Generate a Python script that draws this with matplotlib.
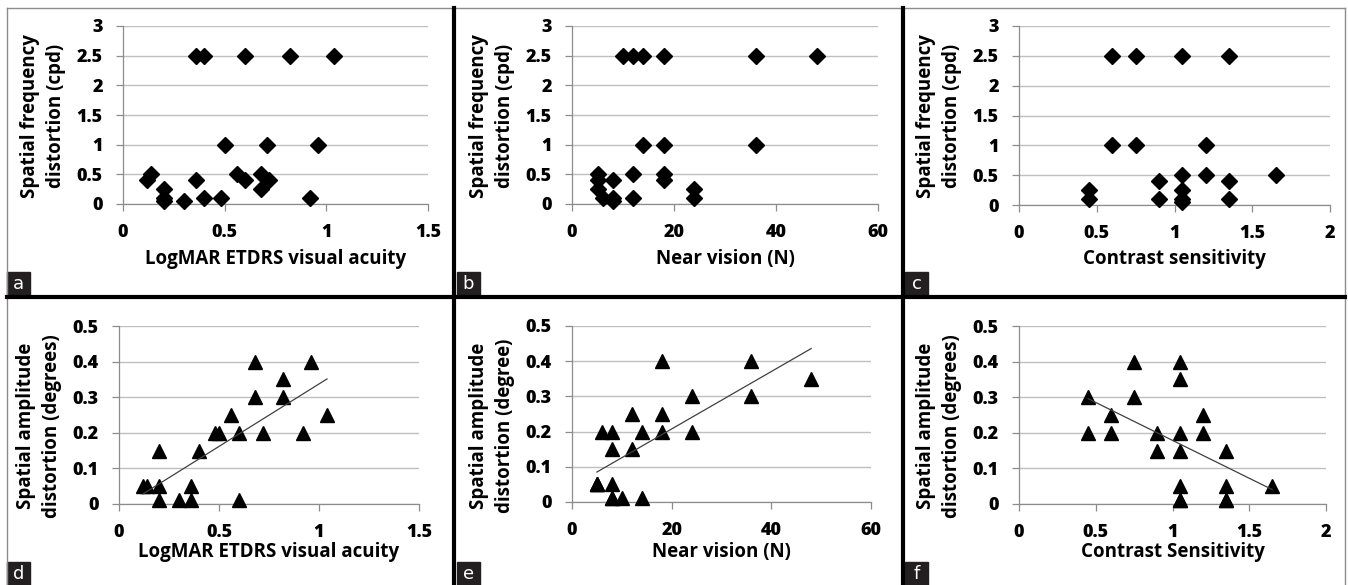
"""
Six-panel scatter figure: distortion vs visual function measures.
"""

import numpy as np
import matplotlib
matplotlib.use("Agg")
import matplotlib.pyplot as plt
from matplotlib.lines import Line2D
from matplotlib.patches import Rectangle

plt.rcParams['font.family'] = ['Open Sans', 'DejaVu Sans']
plt.rcParams['font.weight'] = 'bold'

W, H = 1348, 585

# --- data ---
# top row: spatial frequency distortion (cpd)
a_x = [0.36, 0.40, 0.60, 0.82, 1.04, 0.50, 0.71, 0.96, 0.12, 0.14, 0.20, 0.20,
       0.20, 0.30, 0.36, 0.40, 0.48, 0.56, 0.60, 0.68, 0.68, 0.72, 0.92]
a_y = [2.5, 2.5, 2.5, 2.5, 2.5, 1.0, 1.0, 1.0, 0.4, 0.5, 0.25, 0.1,
       0.05, 0.05, 0.4, 0.1, 0.1, 0.5, 0.4, 0.5, 0.25, 0.4, 0.1]

b_x = [10, 12, 14, 18, 36, 48, 14, 18, 36, 5, 5, 5, 6, 8, 8, 8, 12, 12, 18, 18, 24, 24]
b_y = [2.5, 2.5, 2.5, 2.5, 2.5, 2.5, 1.0, 1.0, 1.0, 0.5, 0.4, 0.25, 0.1, 0.4, 0.1,
       0.05, 0.5, 0.1, 0.5, 0.4, 0.25, 0.1]

c_x = [0.60, 0.75, 1.05, 1.35, 0.60, 0.75, 1.20, 1.05, 1.20, 1.65, 0.90, 1.35,
       0.45, 1.05, 0.45, 0.90, 1.05, 1.35, 1.05]
c_y = [2.5, 2.5, 2.5, 2.5, 1.0, 1.0, 1.0, 0.5, 0.5, 0.5, 0.4, 0.4,
       0.25, 0.25, 0.1, 0.1, 0.1, 0.1, 0.05]

# bottom row: spatial amplitude distortion (degrees)
d_x = [0.12, 0.14, 0.20, 0.20, 0.20, 0.30, 0.36, 0.36, 0.40, 0.48, 0.50, 0.56,
       0.60, 0.60, 0.68, 0.68, 0.72, 0.82, 0.82, 0.92, 0.96, 1.04]
d_y = [0.05, 0.05, 0.05, 0.15, 0.01, 0.01, 0.05, 0.01, 0.15, 0.20, 0.20, 0.25,
       0.20, 0.01, 0.40, 0.30, 0.20, 0.35, 0.30, 0.20, 0.40, 0.25]

# some patients sit on top of each other (5, 0.05) x3 and (8, 0.01) x2
e_x = [5, 5, 5, 6, 8, 8, 8, 8, 8, 10, 12, 12, 14, 14, 18, 18, 18, 24, 24, 36, 36, 48]
e_y = [0.05, 0.05, 0.05, 0.20, 0.20, 0.15, 0.05, 0.01, 0.01, 0.01, 0.25, 0.15,
       0.20, 0.01, 0.40, 0.25, 0.20, 0.30, 0.20, 0.40, 0.30, 0.35]

f_x = [0.45, 0.45, 0.60, 0.60, 0.75, 0.75, 0.90, 0.90, 1.05, 1.05, 1.05, 1.05,
       1.05, 1.05, 1.05, 1.20, 1.20, 1.35, 1.35, 1.35, 1.35, 1.65]
f_y = [0.30, 0.20, 0.25, 0.20, 0.40, 0.30, 0.20, 0.15, 0.40, 0.35, 0.20, 0.15,
       0.05, 0.01, 0.01, 0.25, 0.20, 0.15, 0.05, 0.01, 0.01, 0.05]

top_ylabel = "Spatial frequency\ndistortion (cpd)"
panels = [
    # letter, x, y, xlabel, ylabel, xmax, xstep, ymax, ystep, marker, trend, pixel box (x0, x1, ytop, ybot)
    ("a", a_x, a_y, "LogMAR ETDRS visual acuity", top_ylabel, 1.5, 0.5, 3, 0.5, "D", False, (123, 428, 26, 204)),
    ("b", b_x, b_y, "Near vision (N)", top_ylabel, 60, 20, 3, 0.5, "D", False, (572, 878, 26, 204)),
    ("c", c_x, c_y, "Contrast sensitivity", top_ylabel, 2, 0.5, 3, 0.5, "D", False, (1019, 1330, 26, 205)),
    ("d", d_x, d_y, "LogMAR ETDRS visual acuity", "Spatial amplitude\ndistortion (degrees)",
     1.5, 0.5, 0.5, 0.1, "^", True, (119, 419, 326, 504)),
    ("e", e_x, e_y, "Near vision (N)", "Spatial amplitude\ndistortion (degree)",
     60, 20, 0.5, 0.1, "^", True, (572, 871, 326, 502)),
    ("f", f_x, f_y, "Contrast Sensitivity", "Spatial amplitude\ndistortion (degrees)",
     2, 0.5, 0.5, 0.1, "^", True, (1019, 1326, 326, 504)),
]

grid_col = "#bfbfbf"
axis_col = "#8c8c8c"

fig = plt.figure(figsize=(W / 100, H / 100), dpi=100)

for letter, xs, ys, xlabel, ylabel, xmax, xstep, ymax, ystep, marker, trend, box in panels:
    x0, x1, yt, yb = box
    top_row = letter in "abc"
    ax = fig.add_axes([x0 / W, 1 - yb / H, (x1 - x0) / W, (yb - yt) / H])
    ax.set_xlim(0, xmax)
    ax.set_ylim(0, ymax)
    xt = np.arange(0, xmax + xstep / 2, xstep)
    yt_vals = np.arange(0, ymax + ystep / 2, ystep)
    ax.set_xticks(xt, [f"{v:g}" for v in xt], fontweight=800, fontsize=13)
    ax.set_yticks(yt_vals, [f"{v:g}" for v in yt_vals], fontweight=800, fontsize=13)
    for side in ("top", "right"):
        ax.spines[side].set_visible(False)
    for side in ("left", "bottom"):
        ax.spines[side].set_color(axis_col)
        ax.spines[side].set_linewidth(0.9)
    ax.grid(axis="y", color=grid_col, linewidth=1.0)
    ax.set_axisbelow(True)
    ax.tick_params(direction="out", length=5, width=0.9, color=axis_col, pad=9.5)

    ms = 8 if marker == "D" else 9.5
    ax.plot(xs, ys, linestyle="none", marker=marker, color="black",
            markersize=ms, clip_on=False, zorder=3)

    if trend:
        k, m = np.polyfit(xs, ys, 1)
        tx = np.array([min(xs), max(xs)])
        ax.plot(tx, k * tx + m, color="#404040", linewidth=0.9, zorder=4)

    # axis titles
    hgt = yb - yt
    xl_top = 249 if top_row else 542
    ax.text(0.5, (yb - xl_top) / hgt, xlabel, transform=ax.transAxes, ha="center",
            va="top", fontsize=13.5)
    ymid = 116 if top_row else 426
    ax.text(-80 / (x1 - x0), (yb - ymid) / hgt, ylabel, transform=ax.transAxes,
            ha="center", va="center", rotation=90, fontsize=13.5,
            multialignment="center", linespacing=1.45)

# panel letters in dark boxes
letter_pos = {"a": (7, 272), "b": (457, 272), "c": (905, 272),
              "d": (7, 562), "e": (457, 562), "f": (905, 562)}
for letter, (lx, ly) in letter_pos.items():
    fig.patches.append(Rectangle((lx / W, 1 - (ly + 23) / H), 23 / W, 23 / H,
                                 transform=fig.transFigure, color="#231f20"))
    fig.text((lx + 11.5) / W, 1 - (ly + 12) / H, letter, color="white",
             ha="center", va="center", fontsize=13, family="DejaVu Sans",
             fontweight="normal")

# outer thin border and thick dividers
def fig_line(xa, ya, xb, yb_, col, lw):
    fig.lines.append(Line2D([xa / W, xb / W], [1 - ya / H, 1 - yb_ / H],
                            transform=fig.transFigure, color=col, linewidth=lw))

fig_line(7, 8, 1345, 8, "#8c8c8c", 1.0)
fig_line(7, 8, 7, 585, "#8c8c8c", 1.0)
fig_line(1345, 8, 1345, 585, "#8c8c8c", 1.0)
fig_line(7, 297, 1345, 297, "black", 3)
fig_line(454, 8, 454, 585, "black", 3)
fig_line(903, 8, 903, 585, "black", 3)

fig.savefig("out.png", dpi=100, facecolor="white")
